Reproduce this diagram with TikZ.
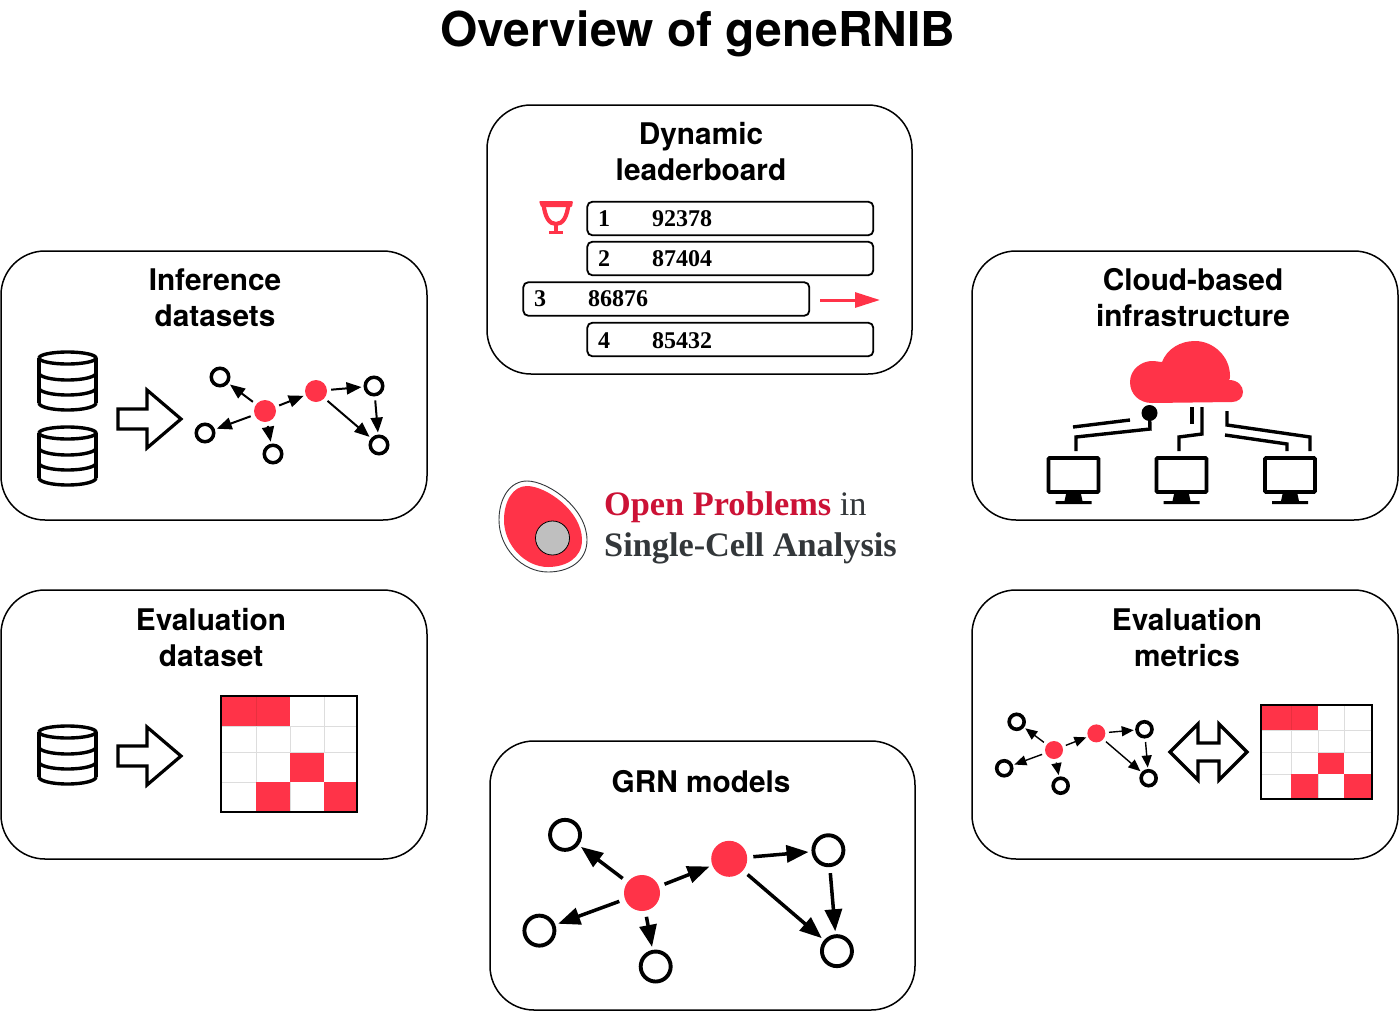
\documentclass[tikz,border=0pt]{standalone}
\usepackage{fontspec}
\setmainfont{TeX Gyre Heros}
\newfontfamily\serifnum{Liberation Serif}
\usetikzlibrary{arrows.meta}
\definecolor{gred}{HTML}{FF3348}
\definecolor{gredline}{HTML}{E8303F}
\definecolor{logored}{HTML}{CC1236}
\definecolor{logodark}{HTML}{33373A}
\definecolor{gridgrey}{HTML}{DDDDDD}
\newcommand{\pnet}[5]{%
 \begin{scope}[shift={(#2,#3)}]
  \foreach \nm/\dx/\dy in {a/-45/-34,b/-60/22,c/8/43,d/109/-25,e/114/34}
   \node[opennode,minimum size=\netopen pt,line width=\netopenw pt] (#1\nm) at ({\dx*#4},{\dy*#4}) {};
  \node[rednode,minimum size=\netred pt] (#1r) at (0,0) {};
  \node[rednode,minimum size=\netred pt] (#1s) at ({51*#4},{-20*#4}) {};
  \begin{scope}[line width=#5pt,shorten <=\netgs pt,shorten >=\netge pt,
     -{Triangle[length=\nethl pt,width=\nethw pt]}]
   \draw (#1r) -- (#1a);
   \draw (#1r) -- (#1b);
   \draw (#1r) -- (#1c);
   \draw (#1r) -- (#1s);
   \draw (#1s) -- (#1d);
   \draw (#1s) -- (#1e);
   \draw (#1d) -- (#1e);
  \end{scope}
 \end{scope}}
\newcommand{\pdb}[2]{%
 \begin{scope}[shift={(#1,#2)},line width=3.4pt,line join=round]
  \draw (-28.5,7) arc[start angle=180,end angle=-180,x radius=28.5,y radius=6];
  \draw (-28.5,7) -- (-28.5,52);
  \draw (28.5,7) -- (28.5,52);
  \draw (-28.5,52) arc[start angle=180,end angle=0,x radius=28.5,y radius=7];
  \draw (-28.5,22) arc[start angle=180,end angle=0,x radius=28.5,y radius=7];
  \draw (-28.5,37) arc[start angle=180,end angle=0,x radius=28.5,y radius=7];
 \end{scope}}
\newcommand{\pblock}[2]{%
 \draw[line width=3.2pt,miter limit=10] (#1,#2) ++(0,-10) -- ++(29,0) -- ++(0,-19) -- ++(34,29) -- ++(-34,29) -- ++(0,-19) -- ++(-29,0) -- cycle;}
\newcommand{\pscreen}[1]{%
 \begin{scope}[shift={(#1,0)}]
  \draw[line width=3.8pt,rounded corners=1pt] (-25,458) rectangle (25,492);
  \fill (-7,492) -- (7,492) -- (9,501) -- (18,501) -- (18,504) -- (-18,504) -- (-18,501) -- (-9,501) -- cycle;
 \end{scope}}
\tikzset{
 x=1pt,y=-1pt,
 panel/.style={draw,line width=1.5pt,rounded corners=44pt,fill=none,inner sep=0pt},
 heading/.style={font=\fontsize{29.8}{36}\selectfont\bfseries,align=center,inner sep=0pt},
 opennode/.style={circle,draw,fill=white,inner sep=0pt},
 rednode/.style={circle,fill=gred,inner sep=0pt},
 rowbox/.style={draw,line width=1.8pt,rounded corners=5pt,minimum width=286pt,minimum height=33.5pt,inner sep=0pt},
 rowtext/.style={font=\serifnum\fontsize{24}{24}\selectfont\bfseries,anchor=base west,inner sep=0pt},
 cable/.style={line width=3.4pt,line join=miter},
 logotext/.style={font=\serifnum\fontsize{34.3}{34.3}\selectfont\bfseries,anchor=base west,inner sep=0pt},
}
\begin{document}
\begin{tikzpicture}
\useasboundingbox (0,0) rectangle (1400,1012);
\node[font=\fontsize{48}{50}\selectfont\bfseries,inner sep=0pt] (title) at (698,34) {Overview of geneRNIB};
% panels
\draw[panel] (1,251) rectangle (427,520);
\draw[panel] (487,105) rectangle (912,374);
\draw[panel] (972,251) rectangle (1398,520);
\draw[panel] (1,590) rectangle (427,859);
\draw[panel] (972,590) rectangle (1398,859);
\draw[panel] (490,741) rectangle (915,1010);
% headings
\node[heading] (h1) at (215,298) {Inference\\datasets};
\node[heading] (h2) at (701,152) {Dynamic\\leaderboard};
\node[heading] (h3) at (1193,298) {Cloud-based\\infrastructure};
\node[heading] (h4) at (211,638) {Evaluation\\dataset};
\node[heading] (h5) at (1187,638) {Evaluation\\metrics};
\node[heading] (h6) at (701,782) {GRN models};
% inference datasets
\pdb{67.5}{351}
\pdb{67.5}{426}
\pblock{118}{419}
\def\netopen{17.5}\def\netopenw{3.5}\def\netred{22}\def\nethl{15}\def\nethw{12}\def\netgs{4}\def\netge{2}
\pnet{p}{265}{411}{1}{2}
% leaderboard
\node[rowbox] (r1) at (730.3,218.5) {};
\node[rowbox] (r2) at (730.3,258.5) {};
\node[rowbox] (r3) at (666.3,299) {};
\node[rowbox] (r4) at (730.3,339.5) {};
\node[rowtext] (r1a) at (598,226) {1};
\node[rowtext] (r1b) at (652,226) {92378};
\node[rowtext] (r2a) at (598,266) {2};
\node[rowtext] (r2b) at (652,266) {87404};
\node[rowtext] (r3a) at (534,306) {3};
\node[rowtext] (r3b) at (588,306) {86876};
\node[rowtext] (r4a) at (598,348) {4};
\node[rowtext] (r4b) at (652,348) {85432};
\coordinate (ra) at (820,300);
\coordinate (rb) at (880,300);
\draw[gred,line width=3pt,-{Triangle[length=25pt,width=15pt]}] (ra) -- (rb);
% trophy
\fill[gred,rounded corners=1pt] (539,201) -- (573,201) -- (572,207) -- (541,207) -- cycle;
\draw[gred,line width=4.2pt] (543.5,204) .. controls (545,217) and (549,224) .. (556,224) .. controls (563,224) and (567,217) .. (568.5,204);
\draw[gred,line width=3.4pt] (556,224) -- (556,232);
\draw[gred,line width=3pt] (549,232) -- (563,232);
% cloud
\fill[gred] (1152,403)
  .. controls (1139,403) and (1130,394) .. (1130,382)
  .. controls (1130,369) and (1142,361) .. (1152,361)
  .. controls (1156,361) and (1160,362) .. (1162,362)
  .. controls (1167,349) and (1180,341) .. (1195,341)
  .. controls (1213,341) and (1230,356) .. (1230,376)
  .. controls (1230,378) and (1230,379) .. (1229,380)
  .. controls (1238,380) and (1243,386) .. (1243,392)
  .. controls (1243,398) and (1238,402) .. (1232,402) -- cycle;
% cables
\node[circle,fill=black,minimum size=16pt,inner sep=0pt] (dot) at (1149.5,413) {};
\draw[cable] (dot.center) -- (1150,429) -- (1076,437) -- (1076,451);
\draw[cable] (1073,427) -- (1130,420);
\draw[cable] (1192,407) -- (1192,424);
\draw[cable] (1202,407) -- (1202,434) -- (1179,437) -- (1179,451);
\draw[cable] (1227,411) -- (1227,425) -- (1310,437) -- (1310,451);
\draw[cable] (1225,435) -- (1287,444) -- (1287,451);
\pscreen{1073.5}
\pscreen{1181.5}
\pscreen{1290}
% logo
\draw[line width=.9pt,draw=logodark] (527,481) .. controls (548,481) and (587,508) .. (587,540) .. controls (587,562) and (568,572) .. (548,572) .. controls (522,572) and (499,548) .. (499,520) .. controls (499,498) and (510,481) .. (527,481) -- cycle;
\fill[gred] (527,486) .. controls (546,486) and (582,511) .. (582,540) .. controls (582,558) and (566,567) .. (548,567) .. controls (525,567) and (504,545) .. (504,520) .. controls (504,501) and (513,486) .. (527,486) -- cycle;
\draw[line width=.8pt,fill=black!25] (552.5,538) circle[radius=17];
\node[logotext] (lg1) at (604,515) {\textcolor{logored}{Open Problems} \textcolor{logodark}{\mdseries in}};
\node[logotext] (lg2) at (604,556) {\textcolor{logodark}{Single-Cell Analysis}};
% evaluation dataset
\pdb{67.5}{725}
\pblock{118}{756}
\fill[gred] (221,696) rectangle (290,726);
\fill[gred] (290,752) rectangle (324,782);
\fill[gred] (256,782) rectangle (290,812);
\fill[gred] (324,782) rectangle (357,812);
\draw[gridgrey,line width=1pt] (256,726) -- (256,782) (290,726) -- (290,752) (290,782) -- (290,812) (324,696) -- (324,752) (221,726) -- (357,726) (221,752) -- (357,752) (221,782) -- (256,782);
\draw[gredline,line width=.6pt] (256,696) -- (256,726);
\draw[line width=1.8pt] (221,696) rectangle (357,812);
% metrics
\def\netopen{15}\def\netopenw{3.6}\def\netred{18}\def\nethl{12}\def\nethw{10}\def\netgs{3.5}\def\netge{1.5}
\pnet{q}{1054}{750}{0.83}{1.4}
\draw[line width=3.4pt,miter limit=10] (1170,752) -- (1198,724) -- (1198,743) -- (1219,743) -- (1219,724) -- (1247,752) -- (1219,780) -- (1219,761) -- (1198,761) -- (1198,780) -- cycle;
\fill[gred] (1261,705) rectangle (1318,730);
\fill[gred] (1318,752) rectangle (1344,774);
\fill[gred] (1291,774) rectangle (1318,799);
\fill[gred] (1344,774) rectangle (1372,799);
\draw[gridgrey,line width=1pt] (1291,730) -- (1291,774) (1318,730) -- (1318,752) (1318,774) -- (1318,799) (1344,705) -- (1344,752) (1261,730) -- (1372,730) (1261,752) -- (1372,752) (1261,774) -- (1291,774);
\draw[gredline,line width=.6pt] (1291,705) -- (1291,730);
\draw[line width=1.8pt] (1261,705) rectangle (1372,799);
% GRN
\def\netopen{30}\def\netopenw{3.9}\def\netred{36}\def\nethl{22}\def\nethw{17}\def\netgs{6}\def\netge{3}
\pnet{g}{642}{893}{1.71}{3.5}
\end{tikzpicture}
\end{document}
